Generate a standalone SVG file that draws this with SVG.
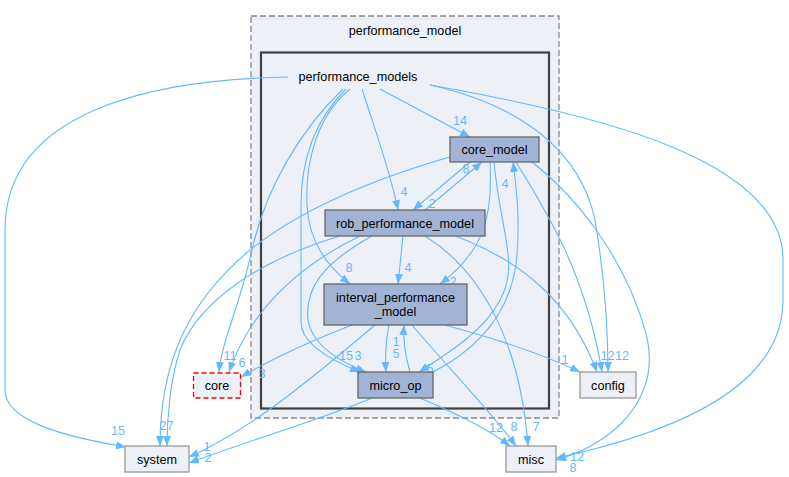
<svg xmlns="http://www.w3.org/2000/svg" width="789" height="477" viewBox="0 0 789 477">
<defs>
<style>
text{font-family:"Liberation Sans",Arial,Helvetica,sans-serif;font-size:12.67px;text-anchor:middle}
.e{fill:none;stroke:#63b8ff;stroke-width:1.1;marker-end:url(#a)}
.l{fill:#63b8ff}
.n rect{fill:#a2b4d6;stroke:#666666;stroke-width:1.3}
.x rect{fill:#edf0f7;stroke:#999999;stroke-width:1.3}
</style>
<marker id="a" viewBox="0 0 10 8" refX="10" refY="4" markerWidth="10" markerHeight="8" markerUnits="userSpaceOnUse" orient="auto">
<path d="M0,0 L10,4 L0,8 z" fill="#63b8ff"/>
</marker>
</defs>
<rect width="789" height="477" fill="#ffffff"/>
<g id="cluster_performance_model">
<rect x="251" y="16" width="308" height="402" fill="#edf0f7" stroke="#888888" stroke-width="1.3" stroke-dasharray="6,3"/>
<text x="405" y="34.5">performance_model</text>
</g>
<g id="cluster_performance_models">
<rect x="261" y="52.5" width="288" height="356" fill="#edf0f7" stroke="#404040" stroke-width="2.2"/>
</g>
<g id="edges">
<path class="e" d="M288,77 C180,79 5,100 5,230 L5,390 C5,420 60,436 126,447"/>
<text class="l" x="118" y="435">15</text>
<path class="e" d="M380,89 L470,137"/>
<text class="l" x="460" y="125">14</text>
<path class="e" d="M362,89 C375,130 390,170 398,210"/>
<text class="l" x="404" y="196">4</text>
<path class="e" d="M350,89 C318,115 305,160 307,205 C309,245 330,268 350,284"/>
<text class="l" x="349" y="272">8</text>
<path class="e" d="M346,89 C315,120 301,160 301,205 L301,322 C301,345 335,362 360,372"/>
<text class="l" x="346" y="360">15</text>
<path class="e" d="M343,89 C300,130 265,190 252,250 C240,305 222,340 219,372"/>
<text class="l" x="230" y="360">11</text>
<path class="e" d="M430,85 C520,105 580,150 595,220 C605,280 608,330 608,372"/>
<text class="l" x="622" y="360">12</text>
<path class="e" d="M430,85 C600,115 783,160 783,260 L783,300 C783,400 640,440 556,458"/>
<text class="l" x="577" y="461">12</text>
<path class="e" d="M470,162 L413,210"/>
<text class="l" x="432" y="208">2</text>
<path class="e" d="M425,210 L482,162"/>
<text class="l" x="466" y="173">8</text>
<path class="e" d="M490,162 C493,215 485,250 440,284"/>
<text class="l" x="453" y="286">2</text>
<path class="e" d="M494,162 C500,230 520,265 500,300 C485,330 450,352 419,372"/>
<text class="l" x="430" y="373">5</text>
<path class="e" d="M433,372 C485,345 513,305 517,255 C520,215 516,185 513,162"/>
<text class="l" x="505" y="188">4</text>
<path class="e" d="M450,157 C370,180 300,210 250,250 C190,300 160,360 160,446"/>
<text class="l" x="163" y="430">2</text>
<path class="e" d="M516,162 C545,210 585,270 602,372"/>
<text class="l" x="611" y="360">2</text>
<path class="e" d="M532,162 C580,200 625,260 645,330 C665,400 610,445 556,460"/>
<text class="l" x="573" y="472">8</text>
<path class="e" d="M403,236 L398,284"/>
<text class="l" x="408" y="272">4</text>
<path class="e" d="M372,236 C320,265 305,290 308,320 C312,345 340,362 366,372"/>
<text class="l" x="358" y="360">3</text>
<path class="e" d="M360,236 C300,265 250,310 229,372"/>
<text class="l" x="242" y="367">6</text>
<path class="e" d="M340,236 C260,260 200,300 180,350 C170,380 167,420 167,446"/>
<text class="l" x="170" y="430">7</text>
<path class="e" d="M455,236 C520,260 570,300 597,372"/>
<text class="l" x="604" y="360">1</text>
<path class="e" d="M425,236 C480,270 520,340 528,446"/>
<text class="l" x="536" y="431">7</text>
<path class="e" d="M389,325 C385,345 385,358 386,372"/>
<text class="l" x="396" y="358">5</text>
<path class="e" d="M410,372 C405,355 403,340 404,325"/>
<text class="l" x="396" y="346">1</text>
<path class="e" d="M352,325 C300,345 270,360 241,377"/>
<text class="l" x="262" y="378">3</text>
<path class="e" d="M375,325 C310,380 250,430 189,457"/>
<text class="l" x="207" y="451">1</text>
<path class="e" d="M445,325 C500,340 545,355 580,372"/>
<text class="l" x="565" y="364">1</text>
<path class="e" d="M412,325 C450,370 490,410 516,446"/>
<text class="l" x="514" y="431">8</text>
<path class="e" d="M372,398 C320,420 250,440 189,463"/>
<text class="l" x="208" y="462">2</text>
<path class="e" d="M420,398 C460,415 490,430 510,446"/>
<text class="l" x="496" y="432">12</text>
</g>
<g id="performance_models">
<text x="358" y="81">performance_models</text>
</g>
<g id="core_model" class="n">
<rect x="450" y="137" width="89" height="25"/>
<text x="494.5" y="154">core_model</text>
</g>
<g id="rob_performance_model" class="n">
<rect x="325" y="210" width="160" height="26"/>
<text x="405" y="227.5">rob_performance_model</text>
</g>
<g id="interval_performance_model" class="n">
<rect x="324" y="284" width="143" height="41"/>
<text x="395.5" y="302">interval_performance</text>
<text x="395.5" y="316">_model</text>
</g>
<g id="micro_op" class="n">
<rect x="358" y="372" width="75" height="26"/>
<text x="395.5" y="389.5">micro_op</text>
</g>
<g id="core" class="x">
<rect x="193.5" y="373" width="47" height="25" style="stroke:#ff0000;stroke-dasharray:5,3"/>
<text x="217" y="390">core</text>
</g>
<g id="system" class="x">
<rect x="125" y="446" width="64" height="26"/>
<text x="157" y="463.5">system</text>
</g>
<g id="config" class="x">
<rect x="580" y="372" width="56" height="26"/>
<text x="608" y="389.5">config</text>
</g>
<g id="misc" class="x">
<rect x="506" y="446" width="50" height="26"/>
<text x="531" y="463.5">misc</text>
</g>
</svg>
